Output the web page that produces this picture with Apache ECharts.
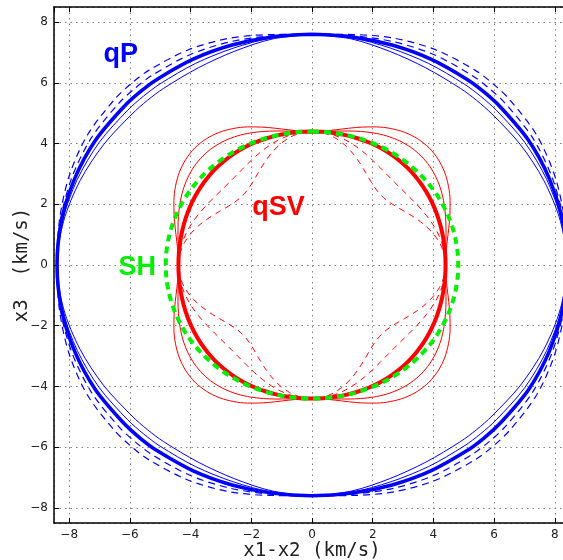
<!DOCTYPE html>
<html>
<head>
<meta charset="utf-8">
<script src="https://cdn.jsdelivr.net/npm/echarts@6/dist/echarts.min.js"></script>
<style>
html, body { margin: 0; padding: 0; background: #ffffff; }
#chart { width: 563px; height: 560px; }
</style>
</head>
<body>
<div id="chart"></div>
<script>
// Wave-surface radii (km/s) sampled in the first quadrant.
// Angle is measured from the x3 axis toward the x1-x2 axis, in degrees.
const anglesP = [0, 10, 20, 30, 40, 45, 50, 60, 70, 80, 90];
const qpThick  = [7.60, 7.63, 7.71, 7.83, 7.97, 8.04, 8.10, 8.23, 8.32, 8.38, 8.40];
const qpThinA  = [7.60, 7.60, 7.60, 7.67, 7.79, 7.86, 7.93, 8.09, 8.23, 8.35, 8.40];
const qpThinB  = [7.60, 7.56, 7.49, 7.50, 7.60, 7.67, 7.74, 7.93, 8.13, 8.31, 8.40];
const qpDashA  = [7.60, 7.67, 7.83, 8.01, 8.17, 8.24, 8.30, 8.39, 8.42, 8.42, 8.40];
const qpDashB  = [7.60, 7.71, 7.95, 8.18, 8.37, 8.44, 8.49, 8.55, 8.52, 8.45, 8.40];

const anglesS = [0, 5, 10, 15, 20, 25, 30, 35, 40, 45, 50, 55, 60, 65, 70, 75, 80, 85, 90];
const qsvThick = [4.400, 4.403, 4.410, 4.422, 4.436, 4.452, 4.466, 4.478, 4.485, 4.488, 4.485, 4.478, 4.466, 4.452, 4.436, 4.422, 4.410, 4.403, 4.400];
const qsvThinA = [4.400, 4.421, 4.480, 4.571, 4.682, 4.800, 4.912, 5.002, 5.061, 5.082, 5.061, 5.002, 4.912, 4.800, 4.682, 4.571, 4.480, 4.421, 4.400];
const qsvThinB = [4.400, 4.432, 4.524, 4.664, 4.836, 5.020, 5.192, 5.333, 5.424, 5.456, 5.424, 5.333, 5.192, 5.020, 4.836, 4.664, 4.524, 4.432, 4.400];
const qsvDashA = [4.400, 4.383, 4.336, 4.263, 4.173, 4.077, 3.988, 3.914, 3.867, 3.850, 3.867, 3.914, 3.988, 4.077, 4.173, 4.263, 4.336, 4.383, 4.400];
const qsvDashB = [4.400, 4.365, 4.264, 4.109, 3.918, 3.716, 3.526, 3.370, 3.269, 3.234, 3.269, 3.370, 3.526, 3.716, 3.918, 4.109, 4.264, 4.365, 4.400];
const shCurve  = [4.400, 4.403, 4.413, 4.428, 4.449, 4.475, 4.505, 4.538, 4.573, 4.609, 4.645, 4.681, 4.714, 4.743, 4.769, 4.790, 4.805, 4.815, 4.818];

// Curve labels: text and position in km/s
const labelNames = ['qP', 'qSV', 'SH'];
const labelX = [-6.30, -1.10, -5.76];
const labelY = [6.93, 1.90, -0.07];

const BLUE = '#0000ff', RED = '#ff0000', GREEN = '#00ee00';
const labelColors = [BLUE, RED, GREEN];

// Turn one quadrant of (angle, radius) samples into a closed x1-x2 / x3 loop,
// mirroring across both axes.
function surfaceLoop(angles, radii) {
  const q = angles.map((a, i) => {
    const t = a * Math.PI / 180;
    return [radii[i] * Math.sin(t), radii[i] * Math.cos(t)];
  });
  const n = q.length - 1;
  const pts = [];
  for (let i = 0; i <= n; i++) pts.push([q[i][0], q[i][1]]);
  for (let i = n - 1; i >= 0; i--) pts.push([q[i][0], -q[i][1]]);
  for (let i = 1; i <= n; i++) pts.push([-q[i][0], -q[i][1]]);
  for (let i = n - 1; i >= 0; i--) pts.push([-q[i][0], q[i][1]]);
  return pts;
}

function curve(angles, radii, color, width, type, z) {
  return {
    type: 'line',
    data: surfaceLoop(angles, radii),
    showSymbol: false,
    symbol: 'none',
    smooth: 0.3,
    z: z,
    color: color,
    itemStyle: { color: color },
    lineStyle: { color: color, width: width, type: type, cap: 'butt', opacity: 1 },
    emphasis: { disabled: true },
    silent: true,
    animation: false
  };
}

const minus = v => String(v).replace('-', '\u2212');

const tickLabel = {
  fontFamily: 'DejaVu Sans',
  fontSize: 12,
  color: '#222222'
};

function xAxisDef(pos) {
  const top = pos === 'top';
  return {
    type: 'value',
    position: pos,
    min: -8.5, max: 8.5,
    splitNumber: 8, minInterval: 2, maxInterval: 2,
    axisLine: { show: true, onZero: false, lineStyle: { color: '#000', width: 1.5 } },
    axisTick: { show: true, inside: true, length: 5, lineStyle: { color: '#000', width: 1 } },
    axisLabel: Object.assign({ show: !top, margin: 6, showMinLabel: false, showMaxLabel: false, formatter: minus }, tickLabel),
    splitLine: { show: !top, lineStyle: { color: '#808080', width: 1, type: [1.5, 4] } },
    name: top ? '' : 'x1-x2 (km/s)',
    nameLocation: 'middle',
    nameGap: 19,
    nameMoveOverlap: false,
    nameTextStyle: { fontFamily: 'DejaVu Sans Mono', fontSize: 19, color: '#222222', verticalAlign: 'top' }
  };
}

function yAxisDef(pos) {
  const right = pos === 'right';
  return {
    type: 'value',
    position: pos,
    min: -8.5, max: 8.5,
    splitNumber: 8, minInterval: 2, maxInterval: 2,
    axisLine: { show: true, onZero: false, lineStyle: { color: '#000', width: 1.5 } },
    axisTick: { show: true, inside: true, length: 5, lineStyle: { color: '#000', width: 1 } },
    axisLabel: Object.assign({ show: !right, margin: 6, showMinLabel: false, showMaxLabel: false, formatter: minus }, tickLabel),
    splitLine: { show: !right, lineStyle: { color: '#808080', width: 1, type: [1.5, 4] } },
    name: right ? '' : 'x3  (km/s)',
    nameLocation: 'middle',
    nameGap: 22,
    nameMoveOverlap: false,
    nameTextStyle: { fontFamily: 'DejaVu Sans Mono', fontSize: 19, color: '#222222' }
  };
}

const chart = echarts.init(document.getElementById('chart'), null, { renderer: 'canvas' });

chart.setOption({
  backgroundColor: '#ffffff',
  animation: false,
  grid: { left: 54, top: 7, width: 516, height: 516, outerBoundsMode: 'none', containLabel: false },
  xAxis: [xAxisDef('bottom'), xAxisDef('top')],
  yAxis: [yAxisDef('left'), yAxisDef('right')],
  series: [
    curve(anglesP, qpThinA, BLUE, 1, 'solid', 2),
    curve(anglesP, qpThinB, BLUE, 1, 'solid', 2),
    curve(anglesP, qpDashA, BLUE, 1.2, [7, 5], 2),
    curve(anglesP, qpDashB, BLUE, 1.2, [7, 5], 2),
    curve(anglesP, qpThick, BLUE, 3.6, 'solid', 3),
    curve(anglesS, qsvThinA, RED, 1, 'solid', 4),
    curve(anglesS, qsvThinB, RED, 1, 'solid', 4),
    curve(anglesS, qsvDashA, RED, 1, [6, 5], 4),
    curve(anglesS, qsvDashB, RED, 1, [6, 5], 4),
    curve(anglesS, qsvThick, RED, 4, 'solid', 5),
    curve(anglesS, shCurve, GREEN, 4, [7, 5], 6),
    {
      type: 'scatter',
      symbol: 'circle',
      symbolSize: 1,
      itemStyle: { color: 'rgba(255,255,255,0)' },
      z: 7,
      silent: true,
      animation: false,
      data: labelNames.map((name, i) => ({
        name: name,
        value: [labelX[i], labelY[i]],
        label: {
          show: true,
          position: 'inside',
          formatter: '{b}',
          color: labelColors[i],
          opacity: 1,
          textBorderWidth: 0,
          textShadowBlur: 0,
          fontFamily: 'Liberation Sans',
          fontWeight: 'bold',
          fontSize: 27
        }
      }))
    }
  ]
});
</script>
</body>
</html>
